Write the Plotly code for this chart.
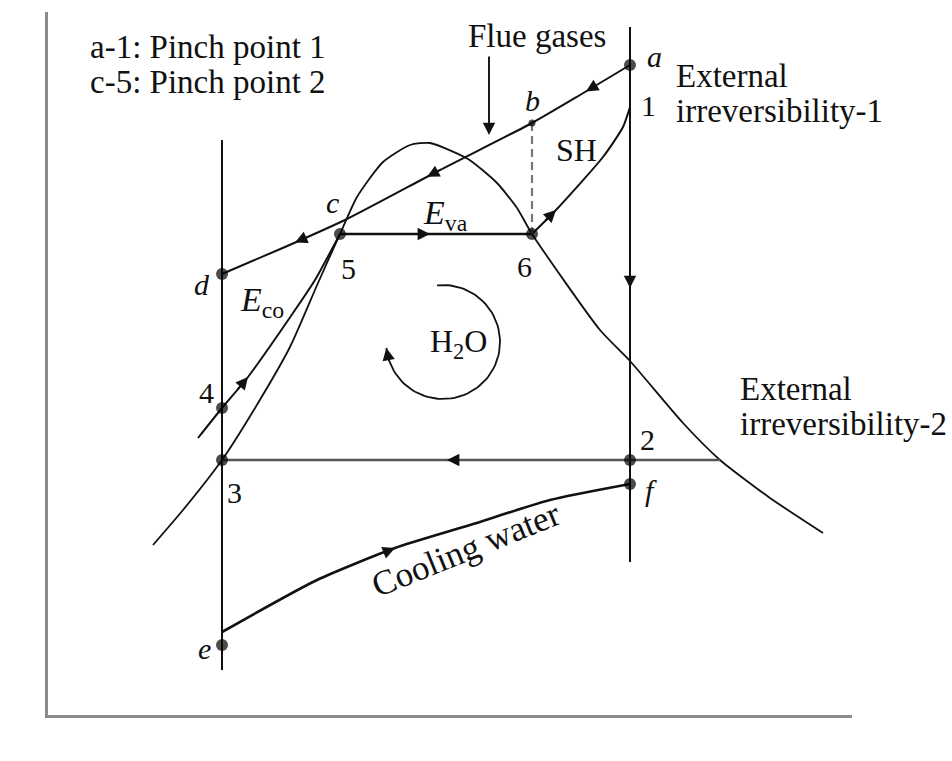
import numpy as np
import plotly.graph_objects as go

# ---- T-s schematic of a steam cycle with flue-gas heating and cooling water ----
# s: entropy (schematic units), T: temperature (schematic units)

# saturation dome
dome_s = [1.05, 1.35, 1.74, 2.04, 2.42, 2.70, 2.92, 3.09, 3.35, 3.62, 3.82, 4.20, 4.49, 4.69,
          4.84, 5.52, 5.82, 6.35, 6.72, 7.22, 7.75]
dome_T = [170, 205, 255, 302, 368, 432, 481, 518, 553, 570, 572, 556, 532, 507,
          481, 385, 354, 292, 255, 217, 182]

# flue gas cooling line a -> b -> c -> d
flue_s = [5.82, 5.32, 4.84, 3.92, 2.99, 2.37, 1.74]
flue_T = [650, 620, 592, 545, 496, 468, 441]

# feed water heating (economiser) 4 -> 5
eco_s = [1.50, 1.74, 2.00, 2.45, 2.67, 2.92]
eco_T = [277, 307, 338, 402, 435, 481]

# superheating 6 -> 1
sh_s = [4.84, 5.08, 5.55, 5.75, 5.82]
sh_T = [481, 505, 558, 588, 608]

# cooling water e -> f
cw_s = [1.74, 2.69, 3.47, 4.22, 5.02, 5.82]
cw_T = [83, 135, 167, 190, 215, 231]

# isentropic lines (expansion at s_hi, pump at s_lo)
s_lo, s_hi = 1.74, 5.82
vert_lo_T = [575, 45]
vert_hi_T = [688, 153]

# evaporation 5 -> 6 and condensation (dome) -> 3
T_evap = 481
evap_s = [2.92, 4.84]
T_cond = 255
cond_s = [6.72, 1.74]

# labelled state points
pt_names = ["a", "b", "c", "d", "e", "f", "1", "2", "3", "4", "5", "6"]
pt_s = [5.82, 4.84, 2.99, 1.74, 1.74, 5.82, 5.82, 5.82, 1.74, 1.74, 2.92, 4.84]
pt_T = [650, 592, 496, 441, 70, 231, 608, 255, 255, 307, 481, 481]
pt_dot = [True, True, False, True, True, True, False, True, True, True, True, True]

# arrow positions along the curves (s location, direction +1 = increasing s)
flue_arrows = [5.38, 3.79, 2.47]
eco_arrows = [2.00]
sh_arrows = [5.08]
cw_arrows = [3.47]
evap_arrows = [3.82]
cond_arrows = [3.99]

# H2O cycle-direction arc
arc_center = (3.95, 373)
arc_radius_s, arc_radius_T = 0.57, 57
arc_start_deg, arc_end_deg = 96, -174

FONT = "Liberation Serif, Times New Roman, serif"
BLACK = "#111111"

fig = go.Figure()


def add_line(xs, ys, width=2.0, color=BLACK, dash=None, shape="spline"):
    fig.add_trace(go.Scatter(
        x=xs, y=ys, mode="lines",
        line=dict(color=color, width=width, dash=dash, shape=shape, smoothing=0.6),
        hoverinfo="skip", showlegend=False))


def arrow_head(x, y, ax, ay):
    fig.add_annotation(x=x, y=y, ax=ax, ay=ay, xref="x", yref="y", axref="x", ayref="y",
                       text="", showarrow=True, arrowhead=2, arrowsize=1.3,
                       arrowwidth=1.9, arrowcolor=BLACK, standoff=0)


def arrows_on(xs, ys, positions, direction, step=0.12):
    order = np.argsort(xs)
    xs_sorted = np.asarray(xs, float)[order]
    ys_sorted = np.asarray(ys, float)[order]
    for s in positions:
        t = np.interp(s, xs_sorted, ys_sorted)
        s_tail = s - direction * step
        t_tail = np.interp(s_tail, xs_sorted, ys_sorted)
        arrow_head(s, t, s_tail, t_tail)


# vertical lines at the pump and expansion entropies
add_line([s_lo, s_lo], vert_lo_T, shape="linear")
add_line([s_hi, s_hi], vert_hi_T, shape="linear")

# dome
add_line(dome_s, dome_T, width=1.8)

# cycle and heat-exchange curves
add_line(flue_s, flue_T)
add_line(eco_s, eco_T)
add_line(sh_s, sh_T)
add_line(cw_s, cw_T, width=2.6)
add_line(evap_s, [T_evap, T_evap], width=2.4, shape="linear")
add_line(cond_s, [T_cond, T_cond], width=2.6, color="#555555", shape="linear")

# dashed b-6 line
b_idx, six_idx = pt_names.index("b"), pt_names.index("6")
add_line([pt_s[b_idx], pt_s[six_idx]], [pt_T[b_idx], pt_T[six_idx]],
         width=2.2, color="#777777", dash="8px,5px", shape="linear")

# arrows along curves
arrows_on(flue_s, flue_T, flue_arrows, -1)
arrows_on(eco_s, eco_T, eco_arrows, +1)
arrows_on(sh_s, sh_T, sh_arrows, +1)
arrows_on(cw_s, cw_T, cw_arrows, +1)
arrows_on(evap_s, [T_evap, T_evap], evap_arrows, +1)
arrows_on(cond_s, [T_cond, T_cond], cond_arrows, -1)
# expansion arrow on s_hi line (downwards)
arrow_head(s_hi, 427, s_hi, 440)
# flue gases direction arrow
arrow_head(4.41, 580, 4.41, 660)

# H2O arc with arrow
ang = np.radians(np.linspace(arc_start_deg, arc_end_deg, 80))
arc_x = arc_center[0] + arc_radius_s * np.cos(ang)
arc_y = arc_center[1] + arc_radius_T * np.sin(ang)
add_line(arc_x, arc_y, width=1.8, shape="linear")
arrow_head(arc_x[-1], arc_y[-1], arc_x[-4], arc_y[-4])

# state point markers
dot_s = [s for s, d in zip(pt_s, pt_dot) if d]
dot_T = [t for t, d in zip(pt_T, pt_dot) if d]
dot_size = [7 if n == "b" else 12 for n, d in zip(pt_names, pt_dot) if d]
fig.add_trace(go.Scatter(x=dot_s, y=dot_T, mode="markers",
                         marker=dict(color="#000000", size=dot_size, line=dict(width=0)),
                         hoverinfo="skip", showlegend=False))

# point labels (offsets in s / T units)
label_offsets = {
    "a": (0.24, 9, True), "b": (0.00, 23, True), "c": (-0.15, 17, True),
    "d": (-0.20, -10, True), "e": (-0.18, -3, True), "f": (0.21, -6, True),
    "1": (0.18, 2, False), "2": (0.17, 21, False), "3": (0.12, -32, False),
    "4": (-0.16, 16, False), "5": (0.08, -34, False), "6": (-0.08, -32, False),
}
for n, s, t in zip(pt_names, pt_s, pt_T):
    dx, dy, ital = label_offsets[n]
    txt = f"<i>{n}</i>" if ital else n
    fig.add_annotation(x=s + dx, y=t + dy, text=txt, showarrow=False,
                       font=dict(family=FONT, size=30, color=BLACK))


def label(x, y, text, size=33, xanchor="center", angle=0):
    fig.add_annotation(x=x, y=y, text=text, showarrow=False, xanchor=xanchor,
                       textangle=angle, font=dict(family=FONT, size=size, color=BLACK))


label(5.28, 565, "SH", 32)
label(3.97, 500, "<i>E</i><sub>va</sub>", 34)
label(2.14, 413, "<i>E</i><sub>co</sub>", 34)
label(4.10, 372, "H<sub>2</sub>O", 32)
label(4.89, 679, "Flue gases", 33)
label(4.18, 166, "Cooling water", 35, angle=-22)
label(0.40, 668, "a-1: Pinch point 1", 33, xanchor="left")
label(0.40, 633, "c-5: Pinch point 2", 33, xanchor="left")
label(6.26, 639, "External", 33, xanchor="left")
label(6.26, 604, "irreversibility-1", 33, xanchor="left")
label(6.90, 326, "External", 33, xanchor="left")
label(6.90, 291, "irreversibility-2", 33, xanchor="left")
label(-0.26, 578, "<i>T</i>", 32)
label(5.29, -35, "<i>s</i>", 32)

axis_style = dict(showgrid=False, zeroline=False, showticklabels=False, ticks="",
                  showline=True, linecolor="#8a8a8a", linewidth=3, fixedrange=True)
fig.update_xaxes(range=[0, 8.04], **axis_style)
fig.update_yaxes(range=[0, 703], **axis_style)
fig.update_layout(width=952, height=761, margin=dict(l=48, r=100, t=12, b=46),
                  paper_bgcolor="white", plot_bgcolor="white", showlegend=False)

fig.write_html("out.html")
